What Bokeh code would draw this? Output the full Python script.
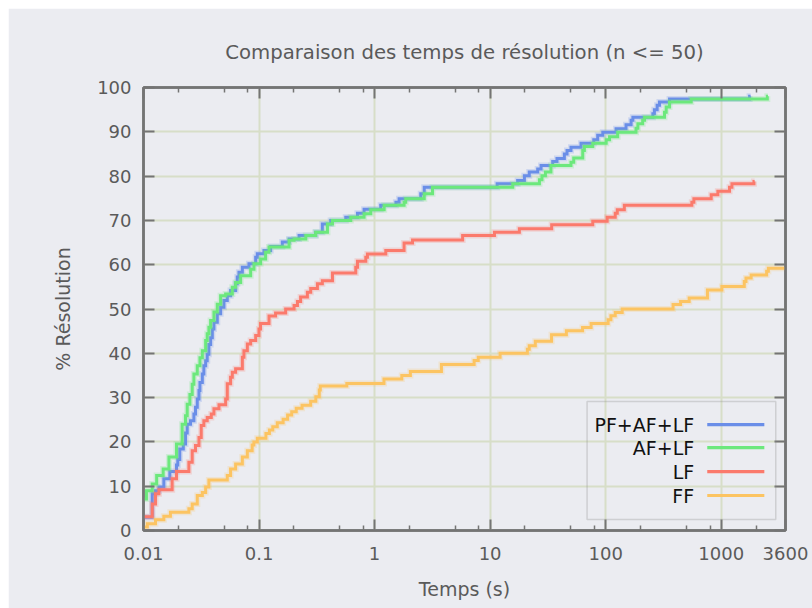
from bokeh.plotting import figure
from bokeh.models import (Range1d, FixedTicker, LogAxis, LinearAxis, BoxAnnotation,
                          Label, CustomJSTickFormatter)
from bokeh.embed import file_html
from bokeh.resources import INLINE

# ---------------- data ----------------
title_text = "Comparaison des temps de résolution (n <= 50)"
x_label = "Temps (s)"
y_label = "% Résolution"
x_ticks = [0.01, 0.1, 1, 10, 100, 1000, 3600]
x_tick_labels = ["0.01", "0.1", "1", "10", "100", "1000", "3600"]
x_minor_ticks = [0.02, 0.05, 0.08, 0.2, 0.5, 0.8, 2, 5, 8, 20, 50, 80,
                 200, 500, 800, 2000]
y_ticks = [0, 10, 20, 30, 40, 50, 60, 70, 80, 90, 100]
series_names = ["PF+AF+LF", "AF+LF", "LF", "FF"]
series_colors = ["#6a8ee8", "#6ce87c", "#fb7a6c", "#fcc462"]

t_pfaflf = [0.01, 0.0119, 0.0127, 0.0136, 0.015, 0.0169, 0.0193, 0.0198, 0.0206, 0.0221,
            0.0231, 0.0239, 0.0255, 0.0273, 0.0282, 0.0292, 0.0302, 0.0308, 0.0323, 0.0333,
            0.0345, 0.0356, 0.0368, 0.0381, 0.0394, 0.0407, 0.0435, 0.0465, 0.0497, 0.0531,
            0.0567, 0.0627, 0.0648, 0.067, 0.0717, 0.0818, 0.0935, 0.0966, 0.1103, 0.126,
            0.159, 0.182, 0.222, 0.309, 0.353, 0.417, 0.563, 0.711, 0.811, 1.13,
            1.53, 1.63, 2.51, 2.69, 11.5, 17.3, 19.8, 21.8, 25.8, 27.6,
            34.8, 37.9, 43.9, 46.3, 50.1, 61.2, 78.9, 85.3, 94.4, 123,
            150, 166, 172, 256, 264, 279, 292, 357, 1760, 1795]
pct_pfaflf = [3.0, 8.3, 9.0, 9.8, 11.7, 13.3, 14.8, 16.0, 18.4, 19.5,
              22.0, 24.0, 24.8, 26.3, 27.8, 29.7, 31.6, 33.4, 35.3, 37.2,
              38.3, 39.8, 42.0, 43.5, 45.5, 47.0, 48.9, 50.4, 51.9, 53.0,
              54.2, 55.7, 57.2, 58.3, 59.4, 60.2, 61.7, 62.5, 63.2, 64.1,
              65.1, 65.8, 66.6, 67.3, 69.2, 70.0, 70.7, 71.6, 72.5, 73.4,
              74.1, 74.9, 76.0, 77.5, 78.3, 79.0, 80.1, 80.9, 81.6, 82.4,
              83.3, 84.0, 85.0, 85.8, 86.5, 87.4, 88.2, 89.2, 89.9, 90.7,
              91.6, 92.6, 93.3, 94.1, 95.0, 96.0, 96.7, 97.4, 98.0, 98.0]

t_aflf = [0.01, 0.0106, 0.0119, 0.013, 0.0148, 0.0166, 0.0193, 0.0216, 0.0231, 0.0239,
          0.0252, 0.0264, 0.0273, 0.0292, 0.0308, 0.0323, 0.0345, 0.0356, 0.0368, 0.0381,
          0.0407, 0.0435, 0.0465, 0.0514, 0.0587, 0.0627, 0.0693, 0.0846, 0.0904, 0.1032,
          0.114, 0.122, 0.182, 0.201, 0.254, 0.309, 0.391, 0.432, 0.622, 0.811,
          0.927, 1.21, 1.80, 1.86, 2.69, 3.17, 15.7, 26.7, 28.1, 30.1,
          33.6, 50.1, 52.9, 63.3, 65.4, 77.3, 101, 108, 127, 183,
          190, 209, 217, 323, 334, 357, 550, 2506, 2540]
pct_aflf = [7.1, 9.0, 10.5, 12.4, 13.9, 16.6, 19.5, 24.0, 25.9, 28.5,
            30.7, 33.0, 35.3, 37.2, 39.0, 40.6, 42.9, 44.4, 45.9, 47.4,
            49.3, 51.1, 53.0, 53.4, 54.9, 56.0, 57.5, 59.0, 60.2, 61.3,
            62.8, 64.0, 65.5, 65.8, 66.6, 67.3, 69.2, 70.0, 70.7, 71.5,
            72.4, 73.4, 74.1, 74.9, 76.0, 77.5, 78.3, 79.2, 80.1, 80.9,
            82.4, 83.1, 84.1, 85.8, 86.7, 87.4, 88.2, 88.9, 89.9, 90.8,
            91.8, 92.6, 93.3, 94.4, 95.6, 96.7, 97.4, 98.0, 98.0]

t_lf = [0.01, 0.0119, 0.0127, 0.0136, 0.0177, 0.0193, 0.0247, 0.0264, 0.0282, 0.0302,
        0.0316, 0.0333, 0.0356, 0.0386, 0.0407, 0.045, 0.0514, 0.0531, 0.0567, 0.0587,
        0.0627, 0.0717, 0.074, 0.0792, 0.0846, 0.0935, 0.0998, 0.103, 0.122, 0.139,
        0.170, 0.201, 0.215, 0.229, 0.262, 0.280, 0.320, 0.353, 0.432, 0.687,
        0.711, 0.839, 0.867, 1.25, 1.80, 2.13, 5.78, 10.9, 17.9, 34.1,
        77.3, 103, 121, 126, 145, 557, 580, 819, 935, 1180,
        1238, 1920, 1945]
pct_lf = [3.1, 6.0, 8.3, 9.2, 11.7, 13.3, 15.4, 18.0, 19.2, 21.0,
          23.7, 24.8, 25.5, 26.3, 27.5, 28.4, 29.7, 33.1, 34.6, 35.7,
          36.5, 39.1, 40.6, 42.1, 42.9, 44.0, 45.5, 46.7, 48.4, 49.1,
          50.0, 50.8, 51.7, 52.7, 53.8, 54.6, 55.7, 56.4, 58.1, 59.4,
          60.8, 61.7, 62.4, 63.2, 64.9, 65.6, 66.6, 67.3, 68.1, 69.0,
          69.8, 70.7, 71.6, 72.4, 73.4, 74.1, 74.9, 75.8, 76.6, 77.5,
          78.3, 78.8, 78.8]

t_ff = [0.01, 0.0108, 0.0127, 0.015, 0.0171, 0.0247, 0.0264, 0.0292, 0.0323, 0.0345,
        0.0368, 0.0531, 0.0567, 0.0627, 0.0717, 0.0792, 0.0872, 0.0902, 0.0966, 0.1147,
        0.1229, 0.1315, 0.1438, 0.1616, 0.1767, 0.1918, 0.2098, 0.2356, 0.2797, 0.31,
        0.332, 0.339, 0.575, 1.206, 1.72, 2.04, 3.79, 7.27, 7.89, 12.2,
        21.0, 21.8, 24.6, 34.0, 45.7, 63.1, 74.8, 105, 111, 121,
        139, 383, 445, 528, 760, 1014, 1583, 1638, 1816, 2472,
        2558, 3600]
pct_ff = [0.8, 1.5, 2.4, 3.2, 4.1, 4.9, 6.0, 7.9, 8.6, 9.8,
          11.4, 12.4, 13.9, 15.0, 16.6, 18.0, 19.3, 20.0, 20.8, 21.9,
          22.7, 23.4, 24.3, 25.1, 26.1, 26.8, 27.6, 28.3, 29.2, 30.2,
          31.7, 32.6, 33.2, 34.2, 35.0, 35.9, 37.5, 38.4, 39.1, 40.0,
          40.9, 41.7, 42.7, 44.2, 45.1, 45.8, 46.7, 47.6, 48.5, 49.2,
          50.0, 51.0, 51.7, 52.5, 54.3, 55.1, 56.2, 57.0, 57.7, 58.5,
          59.2, 59.2]

# legend layout (data units of the plot)
legend_box = dict(left=69, right=2965, top=29.1, bottom=2.5)
legend_text_x = 583
legend_line_x = (757, 2361)
legend_rows_y = [23.9, 18.7, 13.3, 7.9]

# ---------------- style ----------------
BG = "#ebecf1"
GRID = "#d7dec8"
FRAME = "#747474"
TXT = "#5a5a5a"
FONT = "DejaVu Sans"

p = figure(width=804, height=600, x_axis_type="log",
           x_range=Range1d(0.01, 3600), y_range=Range1d(0, 100),
           output_backend="svg", toolbar_location=None,
           min_border_left=135, min_border_right=27,
           min_border_top=79, min_border_bottom=78,
           background_fill_color=BG, border_fill_color=BG,
           outline_line_color=FRAME, outline_line_width=2.5)
p.margin = (8, 0, 0, 8)

p.title.text = title_text
p.title.align = "center"
p.title.text_font = FONT
p.title.text_font_size = "19.7px"
p.title.text_font_style = "normal"
p.title.text_color = TXT
p.title.standoff = 47

fmt = CustomJSTickFormatter(args=dict(vals=x_ticks, labs=x_tick_labels), code="""
for (let i = 0; i < vals.length; i++) {
  if (Math.abs(Math.log10(vals[i]) - Math.log10(tick)) < 1e-6) return labs[i];
}
return '';
""")
blank = CustomJSTickFormatter(code="return '';")

def style_axis(ax, show_labels):
    ax.axis_line_color = FRAME
    ax.axis_line_width = 2.5
    ax.major_tick_line_color = FRAME
    ax.major_tick_line_width = 2
    ax.minor_tick_line_color = FRAME
    ax.minor_tick_line_width = 1.5
    ax.major_tick_in = 11
    ax.major_tick_out = 0
    ax.minor_tick_in = 5
    ax.minor_tick_out = 0
    ax.major_label_text_font = FONT
    ax.major_label_text_color = TXT
    ax.major_label_text_font_size = "18px"
    ax.axis_label_text_font = FONT
    ax.axis_label_text_color = TXT
    ax.axis_label_text_font_style = "normal"
    ax.axis_label_text_font_size = "19px"
    if not show_labels:
        ax.formatter = blank
        ax.major_label_standoff = 0

xax = p.xaxis[0]
xax.ticker = FixedTicker(ticks=x_ticks, minor_ticks=x_minor_ticks)
xax.formatter = fmt
xax.axis_label = x_label
style_axis(xax, True)
xax.major_label_standoff = 16
xax.axis_label_standoff = 15

yax = p.yaxis[0]
yax.ticker = FixedTicker(ticks=y_ticks, minor_ticks=[])
yax.axis_label = y_label
style_axis(yax, True)
yax.major_label_standoff = 12
yax.axis_label_standoff = 20

top = LogAxis(ticker=FixedTicker(ticks=x_ticks, minor_ticks=x_minor_ticks))
style_axis(top, False)
p.add_layout(top, "above")
right = LinearAxis(ticker=FixedTicker(ticks=y_ticks, minor_ticks=[]))
style_axis(right, False)
p.add_layout(right, "right")

p.xgrid.ticker = FixedTicker(ticks=x_ticks[1:-1])
p.ygrid.ticker = FixedTicker(ticks=y_ticks[1:-1])
for g in (p.xgrid[0], p.ygrid[0]):
    g.grid_line_color = GRID
    g.grid_line_width = 2

series = [(t_pfaflf, pct_pfaflf), (t_aflf, pct_aflf), (t_lf, pct_lf), (t_ff, pct_ff)]
for (tx, py), col in zip(series, series_colors):
    p.step(x=tx, y=py, mode="after", line_color=col, line_width=6, line_alpha=0.22,
           line_join="miter")
    p.step(x=tx, y=py, mode="after", line_color=col, line_width=3, line_join="miter")

# custom legend (label left, sample right)
p.add_layout(BoxAnnotation(left=legend_box["left"], right=legend_box["right"],
                           top=legend_box["top"], bottom=legend_box["bottom"],
                           fill_alpha=0, line_color="#8a8a8a", line_width=1.5))
for name, col, yy in zip(series_names, series_colors, legend_rows_y):
    p.add_layout(Label(x=legend_text_x, y=yy, text=name, text_align="right",
                       text_baseline="middle", text_font=FONT, text_font_size="19px",
                       text_color="#111111"))
    p.add_layout(BoxAnnotation(left=legend_line_x[0], right=legend_line_x[1],
                               top=yy + 0.36, bottom=yy - 0.36,
                               fill_color=col, fill_alpha=1, line_color=None))

open("out.html", "w").write(file_html(p, INLINE))
